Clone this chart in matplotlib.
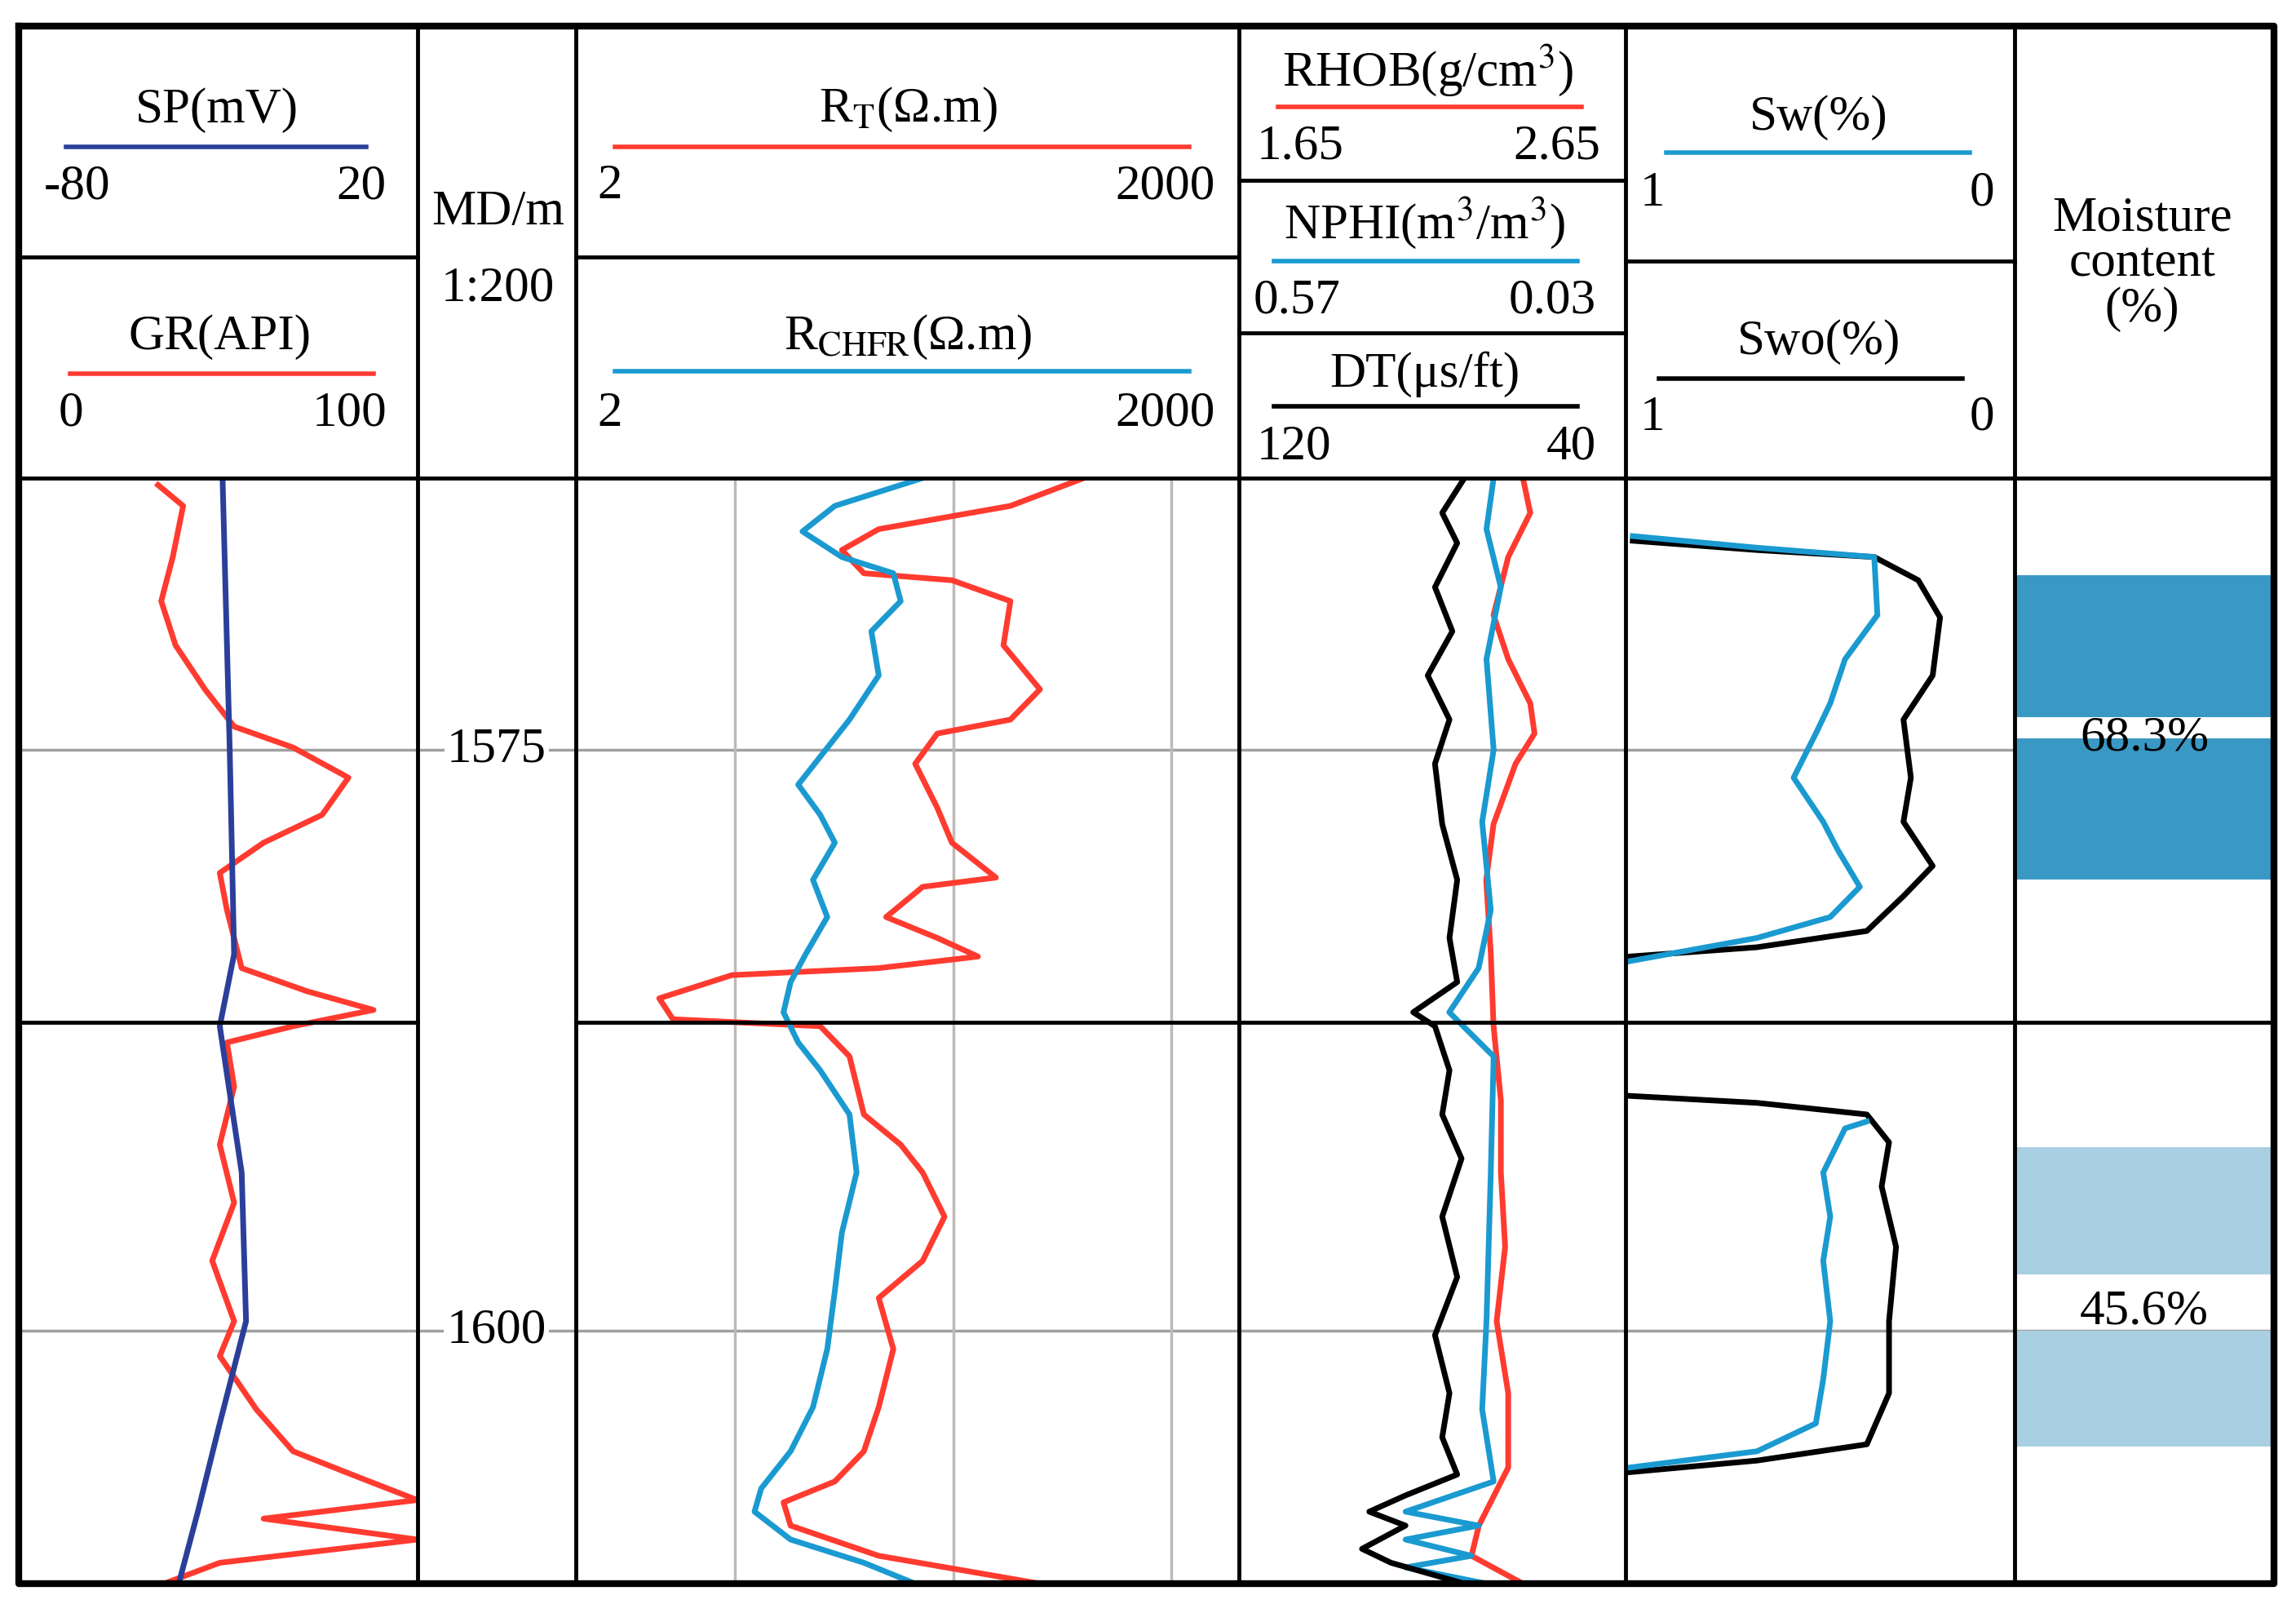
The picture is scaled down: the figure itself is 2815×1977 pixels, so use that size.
import matplotlib
matplotlib.use("Agg")
import matplotlib.pyplot as plt
from matplotlib.patches import Rectangle

plt.rcParams['font.family'] = ['Liberation Serif', 'DejaVu Serif']
plt.rcParams['mathtext.fontset'] = 'stix'

# ---------------- data ----------------
TOP, BOT = 1563.3, 1610.9
grid_depths = [1575, 1600]
depth_labels = ["1575", "1600"]

sp_depth = [1563.3, 1575, 1583.8, 1586.9, 1593.2, 1599.6, 1604.0, 1607.8, 1610.9]
sp_val = [-28.9, -27.1, -26.0, -29.6, -24.1, -23.0, -29.6, -35.1, -39.9]

gr_depth = [1563.6, 1564.5, 1566.7, 1568.6, 1570.5, 1572.4, 1574.0, 1574.9, 1576.2, 1577.8,
            1579.0, 1580.3, 1581.9, 1583.1, 1584.4, 1585.4, 1586.2, 1586.9, 1587.6, 1589.5,
            1592.0, 1594.5, 1597.0, 1599.6, 1601.1, 1603.4, 1605.2, 1606.2, 1607.3, 1608.1,
            1609.0, 1610.0, 1610.9]
gr_val = [34.9, 41.2, 38.6, 35.7, 39.3, 46.7, 54.0, 68.8, 82.7, 76.1,
          61.4, 50.4, 52.2, 54.0, 55.9, 72.4, 89.0, 68.8, 52.2, 54.0,
          50.4, 54.0, 48.5, 54.0, 50.4, 59.6, 68.8, 83.5, 100.0, 61.4,
          100.0, 50.4, 36.4]

rt_depth = [1563.3, 1564.5, 1565.5, 1566.4, 1567.4, 1567.7, 1568.6, 1570.5, 1572.4, 1573.7,
            1574.3, 1575.6, 1577.5, 1579.0, 1580.5, 1580.9, 1582.2, 1583.1, 1583.9, 1584.4,
            1584.7, 1585.7, 1586.6, 1586.9, 1588.2, 1590.7, 1592.0, 1593.2, 1595.1, 1597.0,
            1598.6, 1600.8, 1603.3, 1605.2, 1606.5, 1607.4, 1608.4, 1609.7, 1610.9]
rt_val = [397, 183, 45.6, 30.9, 39, 98.7, 183, 170, 250, 183,
          84.6, 67, 84.6, 98.7, 157, 72.5, 49.3, 84.6, 130, 45.6,
          9.7, 4.5, 5.2, 24.6, 33.5, 39, 57.5, 72.5, 91.3, 72.5,
          45.6, 53.2, 45.6, 39, 28.7, 16.7, 18, 45.6, 250]

rchfr_depth = [1563.3, 1564.5, 1565.6, 1566.7, 1567.4, 1568.6, 1569.9, 1571.8, 1573.7, 1575.3,
               1576.5, 1577.8, 1579.0, 1580.6, 1582.2, 1583.8, 1585.0, 1586.3, 1587.6, 1588.8,
               1590.7, 1593.2, 1595.8, 1598.3, 1600.8, 1603.3, 1605.2, 1606.8, 1607.8, 1609.0,
               1610.0, 1610.9]
rchfr_val = [72.5, 28.7, 20.4, 30.9, 53.2, 57.5, 42.2, 45.6, 33.5, 24.6,
             19.5, 24.6, 28.7, 22.8, 26.5, 21.1, 18, 16.7, 19.5, 24.6,
             33.5, 36.1, 30.9, 28.7, 26.5, 22.8, 18, 13.2, 12.3, 18,
             39, 67]

rhob_depth = [1563.3, 1564.8, 1566.7, 1569.2, 1571.1, 1573.0, 1574.3, 1575.6, 1578.2, 1580.6,
              1583.8, 1586.9, 1590.1, 1593.2, 1596.4, 1599.6, 1602.7, 1605.9, 1608.4, 1609.7, 1610.9]
rhob_val = [2.385, 2.404, 2.347, 2.309, 2.347, 2.404, 2.415, 2.366, 2.309, 2.290,
            2.302, 2.309, 2.328, 2.328, 2.339, 2.317, 2.347, 2.347, 2.271, 2.252, 2.385]

nphi_depth = [1563.3, 1565.5, 1568.0, 1571.1, 1575.0, 1578.1, 1581.9, 1584.4, 1586.3, 1588.2,
              1593.2, 1599.6, 1603.4, 1606.5, 1607.8, 1608.4, 1609.0, 1609.7, 1610.2, 1610.9]
nphi_val = [0.214, 0.224, 0.204, 0.224, 0.214, 0.230, 0.218, 0.235, 0.276, 0.214,
            0.218, 0.224, 0.230, 0.214, 0.337, 0.235, 0.337, 0.245, 0.337, 0.224]

dt_depth = [1563.3, 1564.8, 1566.1, 1568.0, 1569.9, 1571.8, 1573.7, 1575.6, 1578.2, 1580.6,
            1583.1, 1585.0, 1586.3, 1586.9, 1588.8, 1590.7, 1592.6, 1595.1, 1597.7, 1600.2,
            1602.7, 1604.6, 1606.2, 1607.1, 1607.8, 1608.4, 1609.4, 1610.0, 1610.9]
dt_val = [73.3, 77.9, 74.8, 79.4, 75.8, 80.9, 76.4, 79.4, 77.9, 74.8,
          76.4, 74.8, 83.9, 79.4, 76.4, 77.9, 73.9, 77.9, 74.8, 79.4,
          76.4, 77.9, 74.8, 85.5, 93.0, 85.5, 94.5, 88.5, 73.3]

swo1_depth = [1566.0, 1566.4, 1566.7, 1567.7, 1569.3, 1571.8, 1573.7, 1576.2, 1578.1, 1580.0,
              1581.3, 1582.8, 1583.5, 1583.9]
swo1_val = [0.981, 0.662, 0.361, 0.248, 0.192, 0.211, 0.286, 0.267, 0.286, 0.211,
            0.286, 0.380, 0.662, 0.989]
sw1_depth = [1565.8, 1566.3, 1566.7, 1569.2, 1571.1, 1573.0, 1574.3, 1576.2, 1578.1, 1579.3,
             1580.9, 1582.2, 1583.1, 1584.1]
sw1_val = [0.981, 0.662, 0.361, 0.353, 0.436, 0.474, 0.511, 0.568, 0.492, 0.455,
           0.398, 0.474, 0.662, 0.989]
swo2_depth = [1589.9, 1590.2, 1590.7, 1591.9, 1593.8, 1596.4, 1599.6, 1602.7, 1604.9, 1605.6, 1606.1]
swo2_val = [0.989, 0.662, 0.380, 0.323, 0.342, 0.305, 0.323, 0.323, 0.380, 0.662, 0.989]
sw2_depth = [1591.0, 1591.3, 1593.2, 1595.1, 1597.0, 1599.6, 1602.1, 1604.0, 1605.2, 1605.9]
sw2_val = [0.380, 0.436, 0.492, 0.474, 0.492, 0.474, 0.492, 0.511, 0.662, 0.989]

moist_top = [1567.5, 1574.5, 1592.1, 1600.0]
moist_bot = [1573.6, 1580.6, 1597.6, 1605.0]
moist_color = ['#3a98c4', '#3a98c4', '#a9cfe3', '#a9cfe3']
moist_labels = ["68.3%", "45.6%"]
moist_label_depth = [1574.5, 1599.2]

# ---------------- layout ----------------
W, H = 1568, 1100
fig = plt.figure(figsize=(28.15, 19.77), dpi=100)
fig.patch.set_facecolor('white')

def rect(x0, x1, y0, y1):
    return [x0 / W, 1 - y1 / H, (x1 - x0) / W, (y1 - y0) / H]

cols = [13, 285, 393, 846, 1110, 1376, 1553]
Y0, YH, YB = 18, 326, 1080
LW = 5.0
FS = 44

def track(x0, x1, xlim, xscale='linear'):
    ax = fig.add_axes(rect(x0, x1, YH, YB))
    ax.set_xscale(xscale)
    ax.set_xlim(*xlim)
    ax.set_ylim(BOT, TOP)
    ax.axis('off')
    ax.patch.set_alpha(0)
    for d in grid_depths:
        ax.axhline(d, color='#a0a0a0', lw=2.5, zorder=0)
    return ax

a1 = track(cols[0], cols[1], (0, 100))
a1.plot(gr_val, gr_depth, color='#ff3b30', lw=LW, solid_joinstyle='round')
a1b = a1.twiny(); a1b.set_xlim(-80, 20); a1b.axis('off')
a1b.plot(sp_val, sp_depth, color='#2b3f9a', lw=LW)

a2 = track(cols[1], cols[2], (0, 1))
for d, lab in zip(grid_depths, depth_labels):
    a2.text(0.5, d, lab, ha='center', va='center', fontsize=FS,
            bbox=dict(facecolor='white', edgecolor='none', pad=2))

a3 = track(cols[2], cols[3], (1.86, 2036), 'log')
for g in [10, 100, 1000]:
    a3.axvline(g, color='#c0b8b8', lw=2.5, zorder=0)
a3.plot(rt_val, rt_depth, color='#ff3b30', lw=LW, solid_joinstyle='round')
a3.plot(rchfr_val, rchfr_depth, color='#1a9ad0', lw=LW, solid_joinstyle='round')

a4 = track(cols[3], cols[4], (1.65, 2.65))
a4.plot(rhob_val, rhob_depth, color='#ff3b30', lw=LW, solid_joinstyle='round')
a4b = a4.twiny(); a4b.set_xlim(0.57, 0.03); a4b.axis('off')
a4b.plot(nphi_val, nphi_depth, color='#1a9ad0', lw=LW, solid_joinstyle='round')
a4c = a4.twiny(); a4c.set_xlim(120, 40); a4c.axis('off')
a4c.plot(dt_val, dt_depth, color='black', lw=LW, solid_joinstyle='round')

a5 = track(cols[4], cols[5], (1, 0))
a5.plot(swo1_val, swo1_depth, color='black', lw=LW, solid_joinstyle='round')
a5.plot(sw1_val, sw1_depth, color='#1a9ad0', lw=LW, solid_joinstyle='round')
a5.plot(swo2_val, swo2_depth, color='black', lw=LW, solid_joinstyle='round')
a5.plot(sw2_val, sw2_depth, color='#1a9ad0', lw=LW, solid_joinstyle='round')

a6 = track(cols[5], cols[6], (0, 1))
for t, b, c in zip(moist_top, moist_bot, moist_color):
    a6.add_patch(Rectangle((0, t), 1, b - t, facecolor=c, edgecolor='none', zorder=1))
for lab, d in zip(moist_labels, moist_label_depth):
    a6.text(0.5, d, lab, ha='center', va='center', fontsize=FS, zorder=3)

# overlay for frame and header
ov = fig.add_axes([0, 0, 1, 1])
ov.set_xlim(0, W); ov.set_ylim(H, 0); ov.axis('off'); ov.patch.set_alpha(0)
K = 'black'
ov.plot([13, 1553, 1553, 13, 13], [18, 18, 1080, 1080, 18], color=K, lw=6)
for x in cols[1:-1]:
    ov.plot([x, x], [18, 1080], color=K, lw=3.5)
ov.plot([13, 1553], [326, 326], color=K, lw=3.5)
for xa, xb in [(13, 285), (393, 846), (846, 1110), (1110, 1376), (1376, 1553)]:
    ov.plot([xa, xb], [697, 697], color=K, lw=3.5)
ov.plot([13, 285], [175, 175], color=K, lw=3.5)
ov.plot([393, 846], [175, 175], color=K, lw=3.5)
ov.plot([846, 1110], [123, 123], color=K, lw=3.5)
ov.plot([846, 1110], [227, 227], color=K, lw=3.5)
ov.plot([1110, 1376], [178, 178], color=K, lw=3.5)

def head(cx, y, title, lx0, lx1, ly, color, left, right, lefx, rigx, vy):
    ov.text(cx, y, title, ha='center', va='center', fontsize=FS)
    ov.plot([lx0, lx1], [ly, ly], color=color, lw=4)
    ov.text(lefx, vy, left, ha='left', va='center', fontsize=FS)
    ov.text(rigx, vy, right, ha='right', va='center', fontsize=FS)

RED, BLUE = '#ff3b30', '#1a9ad0'
head(148, 75, 'SP(mV)', 45, 250, 100, '#2b3f9a', '-80', '20', 30, 264, 127)
head(150, 230, 'GR(API)', 48, 255, 255, RED, '0', '100', 40, 264, 282)
ov.text(340, 145, 'MD/m', ha='center', va='center', fontsize=FS)
ov.text(340, 197, '1:200', ha='center', va='center', fontsize=FS)
head(620, 75, r'R$_{\mathrm{T}}$(Ω.m)', 420, 812, 100, RED, '2', '2000', 408, 830, 127)
head(620, 230, r'R$_{\mathrm{CHFR}}$(Ω.m)', 420, 812, 253, BLUE, '2', '2000', 408, 830, 282)
head(975, 48, r'RHOB(g/cm$^{3}$)', 873, 1080, 73, RED, '1.65', '2.65', 858, 1093, 100)
head(973, 152, r'NPHI(m$^{3}$/m$^{3}$)', 870, 1077, 178, BLUE, '0.57', '0.03', 856, 1090, 205)
head(973, 255, 'DT(μs/ft)', 870, 1077, 277, 'black', '120', '40', 858, 1090, 305)
head(1242, 80, 'Sw(%)', 1138, 1345, 104, BLUE, '1', '0', 1120, 1362, 132)
head(1242, 233, 'Swo(%)', 1133, 1340, 258, 'black', '1', '0', 1120, 1362, 285)
ov.text(1463, 180, 'Moisture\ncontent\n(%)', ha='center', va='center', fontsize=FS, linespacing=1.0)

fig.savefig('out.png', dpi=100, facecolor='white')
